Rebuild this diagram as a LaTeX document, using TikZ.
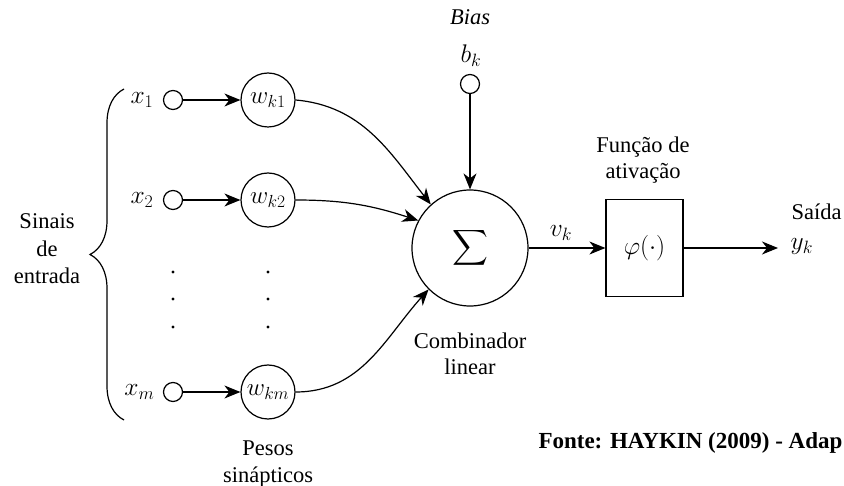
\RequirePackage{fix-cm}
\documentclass[tikz,border=0pt]{standalone}
\usepackage[no-math]{fontspec}
\setmainfont{Liberation Serif}
\usepackage{amsmath}
\usetikzlibrary{positioning,arrows.meta,decorations.pathreplacing}

\tikzset{
  rotulo/.style={font=\rmfamily\fontsize{22.5}{26.5}\selectfont, inner sep=0pt, align=center},
  mat/.style={font=\fontsize{25.5}{30}\selectfont, inner sep=0pt},
  entrada/.style={circle, draw, minimum size=19pt, inner sep=0pt},
  peso/.style={circle, draw, minimum size=54pt, inner sep=0pt, font=\fontsize{25}{30}\selectfont},
  seta/.style={-{Stealth[length=16pt,width=13pt,inset=5pt]}},
}

\begin{document}
\begin{tikzpicture}[x=1pt, y=-1pt, line width=1.2pt]
\useasboundingbox (0,0) rectangle (844,486);
% ENTRADAS
\node[entrada] (in1) at (173,100) {};
\node[entrada] (in2) at (173,200) {};
\node[entrada] (inm) at (173,392) {};
\node[mat, anchor=east] (x1) at (154,100) {$x_1$};
\node[mat, anchor=east] (x2) at (154,200) {$x_2$};
\node[mat, anchor=east] (xm) at (155,392) {$x_m$};
\coordinate (chaveA) at (124,420);
\coordinate (chaveB) at (124,89);
\draw[decorate, decoration={brace, amplitude=34pt}] (chaveA) -- (chaveB);
\node[rotulo, font=\rmfamily\fontsize{22.5}{27.5}\selectfont] (sinais) at (47,249) {Sinais\\de\\entrada};
% PESOS
\node[peso] (w1) at (268,100) {$w_{k1}$};
\node[peso] (w2) at (268,200) {$w_{k2}$};
\node[peso] (wm) at (268,392) {$w_{km}$};
\foreach \i in {1,2,m}
  \draw[seta] (in\i) -- (w\i);
\foreach \y in {272,299,327} {
  \fill (173,\y) circle (1.6pt);
  \fill (268,\y) circle (1.6pt);
}
\node[rotulo] (pesos) at (268,464) {Pesos\\sinápticos};
% SOMADOR
\node[circle, draw, minimum size=116pt, inner sep=0pt] (soma) at (470,248)
  {\fontsize{28}{32}\selectfont$\displaystyle\sum$};
\node[entrada] (bk) at (470,84) {};
\node[mat] (bklab) at (471,56) {$b_k$};
\node[rotulo, font=\rmfamily\fontsize{22.5}{26.5}\selectfont\itshape] (bias) at (470,17) {Bias};
\draw[seta] (bk) -- (soma);
\draw[seta] (w1.east) to[out=-5, in=128] (soma.132);
\draw[seta] (w2.east) to[out=0, in=162] (soma.152);
\draw[seta] (wm.east) to[out=0, in=-132] (soma.225);
\node[rotulo] (comb) at (470,354) {Combinador\\linear};
% ATIVACAO
\node[draw, mat, minimum width=77pt, minimum height=97pt] (phi) at (644.5,248) {$\varphi(\cdot)$};
\draw[seta] (soma) -- (phi);
\node[mat] (vk) at (561,233) {$v_k$};
\node[rotulo] (funcao) at (643,160) {Função de\\ativação};
% SAIDA
\coordinate (fim) at (778,248);
\draw[seta] (phi) -- (fim);
\node[rotulo, anchor=base west] (saida) at (791,220) {Saída};
\node[mat, anchor=base west] (yk) at (790,250) {$y_k$};
% FONTE
\node[rotulo, font=\rmfamily\fontsize{23}{27}\selectfont\bfseries, anchor=base east] (fonte) at (843,448) {Fonte: HAYKIN (2009) - Adap};
\end{tikzpicture}
\end{document}
